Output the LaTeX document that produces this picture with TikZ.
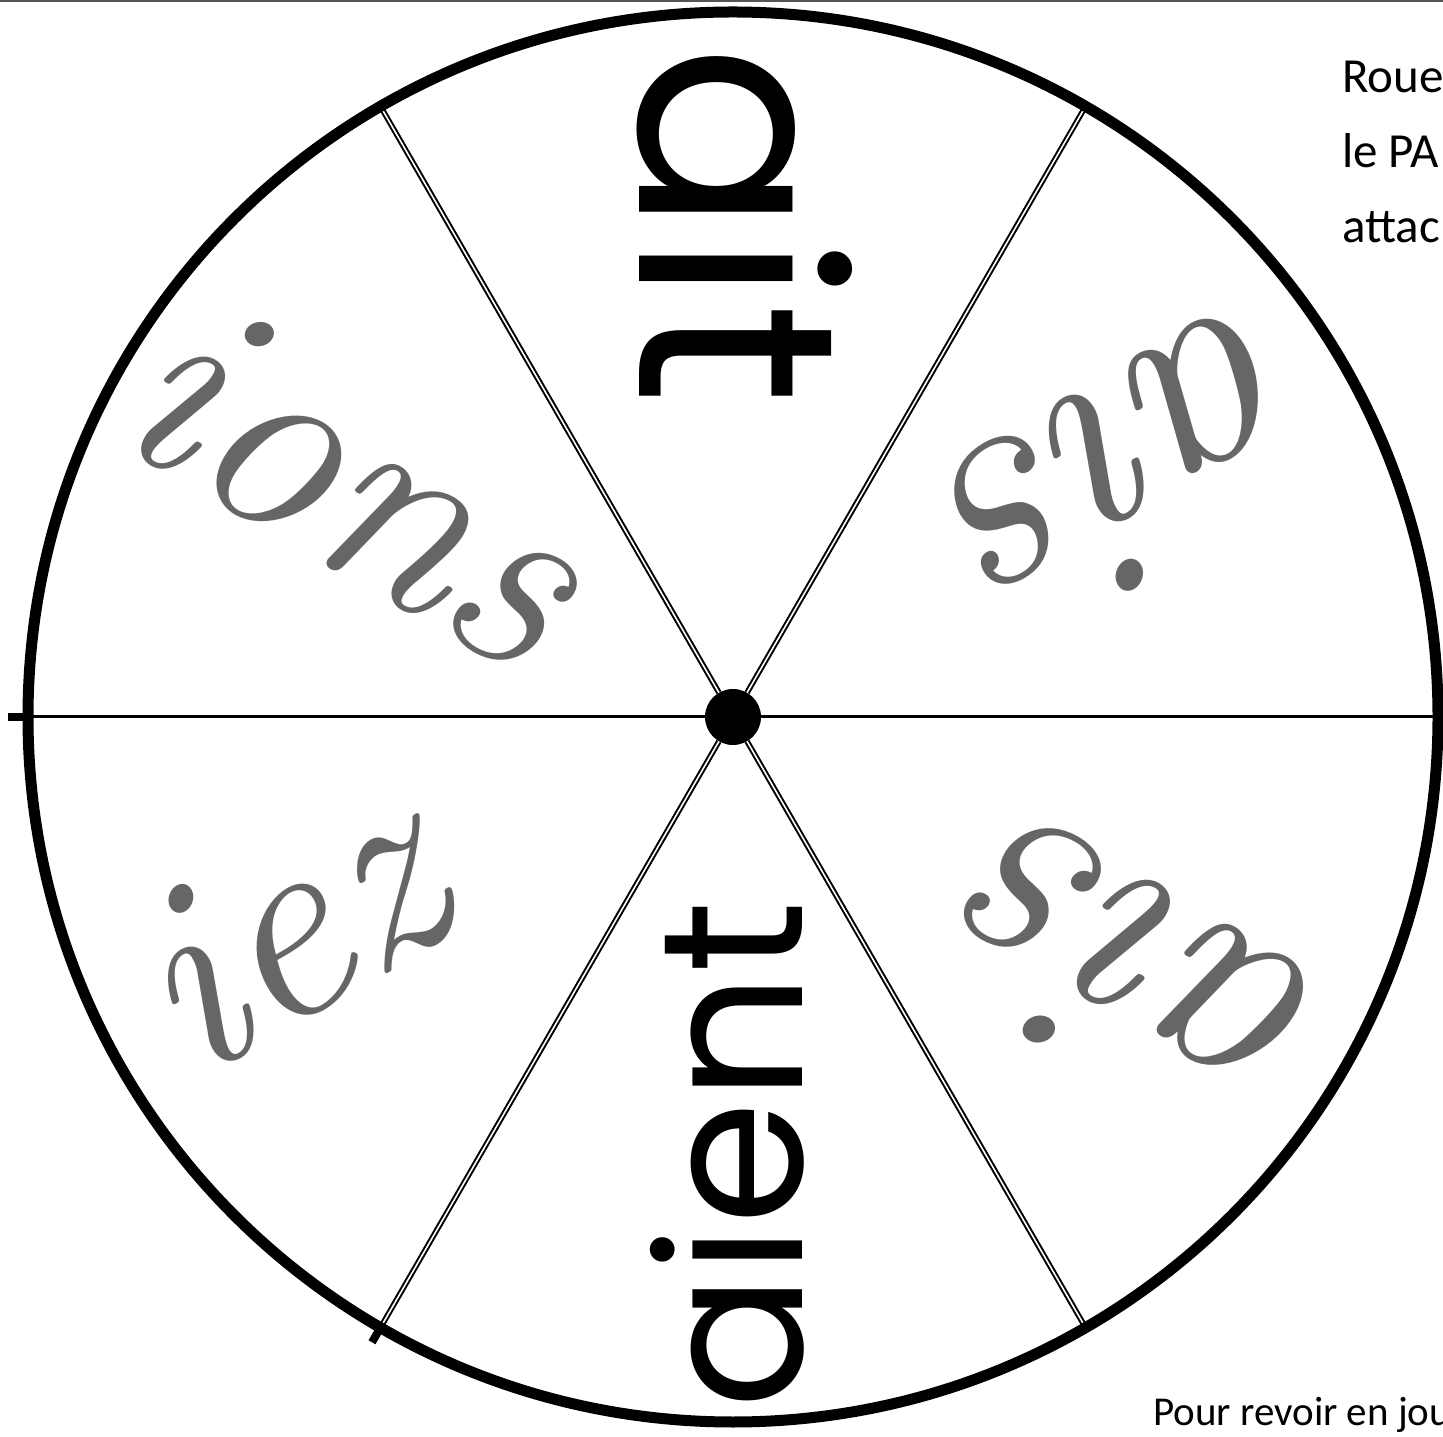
\documentclass[tikz,border=0pt]{standalone}
\usepackage{fontspec}
\usepackage{xcolor}
\usepackage{tikz}
\usetikzlibrary{calc}
\newfontfamily\wheelsans{Poppins}
\newfontfamily\notesans{Carlito}
\definecolor{wheelGrey}{HTML}{666666}
\definecolor{wheelRule}{HTML}{555555}
\tikzset{
  wheel/rim/.style    = {draw=black, line width=11pt},
  wheel/spoke/.style  = {draw=black, line width=2pt, double=white, double distance=1.6pt},
  wheel/flat/.style   = {draw=black, line width=3pt},
  wheel/tick/.style   = {draw=black, line width=8pt},
  wheel/hub/.style    = {circle, fill=black, minimum size=56pt, inner sep=0pt},
  wheel/print/.style  = {font=\wheelsans\fontsize{280}{300}\selectfont, text=black, inner sep=0pt},
  wheel/script/.style = {font=\itshape\fontsize{275}{290}\selectfont, text=wheelGrey, inner sep=0pt},
  wheel/note/.style   = {font=\notesans\fontsize{49}{75}\selectfont, align=left, inner sep=0pt},
}

\begin{document}
\begin{tikzpicture}[x=1pt, y=1pt]
  \useasboundingbox (0,0) rectangle (1443,1436);
  \draw[wheelRule, line width=2pt] (0,1435) -- (1443,1435);
  \node[wheel/hub] (hub) at (733,719) {};
  \foreach \a in {0,60,...,300}
    \coordinate (rim\a) at ($(hub)+(\a:700)$);
  % endings
  \node[wheel/print, rotate=-90] (ait) at (745,1211) {ait};
  \node[wheel/script, rotate=-150, font=\itshape\fontsize{305}{320}\selectfont] (ais1) at (1140,966) {ais};
  \node[wheel/script, rotate=150, font=\itshape\fontsize{305}{320}\selectfont] (ais2) at (1135,450) {ais};
  \node[wheel/print, rotate=90, font=\wheelsans\fontsize{200}{220}\selectfont] (aient) at (727,281) {aient};
  \node[wheel/script, rotate=30] (iez) at (285,508) {iez};
  \node[wheel/script, rotate=-30] (ions) at (358,955) {ions};
  % spokes
  \foreach \a in {60,120,240,300}
    \draw[wheel/spoke] (hub) -- (rim\a);
  \draw[wheel/flat] (hub) -- (rim0);
  \draw[wheel/flat] (hub) -- (rim180);
  \draw[wheel/rim] (hub) circle[radius=705pt];
  \draw[wheel/tick] ($(hub)+(180:703)$) -- ($(hub)+(180:725)$);
  \draw[wheel/tick] ($(hub)+(240:703)$) -- ($(hub)+(240:722)$);
  % side notes
  \node[wheel/note, anchor=base west] (note) at (1342,1193) {Roue\\le PA\\attac};
  \node[wheel/note, anchor=base west, font=\notesans\fontsize{41}{45}\selectfont] (foot) at (1153,11) {Pour revoir en jou};
\end{tikzpicture}
\end{document}
